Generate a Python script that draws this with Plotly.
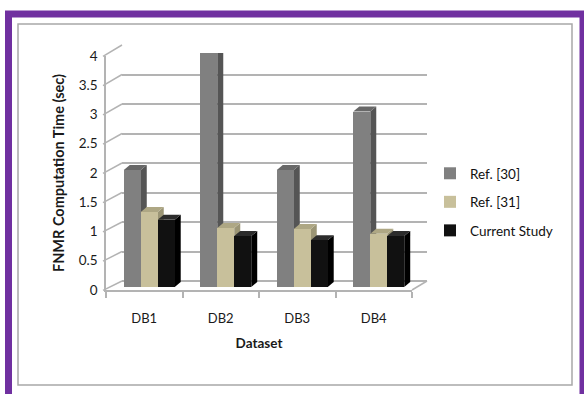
import plotly.graph_objects as go

# ---- data -------------------------------------------------------------
datasets = ["DB1", "DB2", "DB3", "DB4"]
ref30 = [2.0, 4.0, 2.0, 3.0]
ref31 = [1.28, 1.01, 0.99, 0.91]
current_study = [1.15, 0.87, 0.80, 0.87]
series_names = ["Ref. [30]", "Ref. [31]", "Current Study"]
y_ticks = [0, 0.5, 1, 1.5, 2, 2.5, 3, 3.5, 4]

# ---- styling ----------------------------------------------------------
W, H = 584, 394
FONT = "Lato"
front_col = ["#808080", "#c8c09b", "#111111"]
side_col = ["#555555", "#9b9575", "#000000"]
cap_col = ["#686868", "#aea784", "#2c2c2c"]
GRID = "#b3b3b3"
Y_MAX = 4


def px(x):
    return x / W


def py(y):
    return 1 - y / H


# pixel frames of the three depth planes (front edge, bar plane, back wall)
FRONT = dict(x0=106, x1=412, y0=290, y1=56)
BARS = dict(x0=111, x1=417, y0=287, y1=53)
BACK = dict(x0=122, x1=427, y0=281, y1=45)

bar_w = 0.222
offsets = [-0.333, -0.111, 0.111]
x_unit_px = (BARS["x1"] - BARS["x0"]) / len(datasets)
y_unit_px = (BARS["y0"] - BARS["y1"]) / Y_MAX
depth_x = 6 / x_unit_px
depth_y = 5 / y_unit_px

fig = go.Figure()

# back wall subplot (gridlines only)
fig.add_trace(go.Scatter(x=[], y=[], xaxis="x", yaxis="y", showlegend=False, hoverinfo="skip"))

# bars
all_series = [ref30, ref31, current_study]
for k, (name, vals) in enumerate(zip(series_names, all_series)):
    fig.add_trace(go.Bar(
        x=datasets, y=vals, name=name, xaxis="x2", yaxis="y2",
        width=bar_w, offset=offsets[k],
        marker=dict(color=front_col[k], line=dict(width=0)),
        legendgroup=name,
    ))

# front axes (labels)
fig.add_trace(go.Scatter(x=datasets, y=[None] * len(datasets), xaxis="x3", yaxis="y3",
                         showlegend=False, hoverinfo="skip"))

shapes = []

# side and top faces of every bar
for i in range(len(datasets)):
    for k, vals in enumerate(all_series):
        v = vals[i]
        left = i + offsets[k]
        right = left + bar_w
        shapes.append(dict(
            type="path", xref="x2", yref="y2", layer="between",
            path=(f"M{right},{v} L{right + depth_x},{v + depth_y} "
                  f"L{right + depth_x},{depth_y} L{right},0 Z"),
            fillcolor=side_col[k], line=dict(width=0),
        ))
        shapes.append(dict(
            type="path", xref="x2", yref="y2", layer="between",
            path=(f"M{left},{v} L{right},{v} L{right + depth_x},{v + depth_y} "
                  f"L{left + depth_x},{v + depth_y} Z"),
            fillcolor=cap_col[k], line=dict(width=0),
        ))


def plane_y(plane, v):
    return plane["y0"] + (plane["y1"] - plane["y0"]) * v / Y_MAX


# left wall: lines joining front ticks to back gridlines
for v in y_ticks:
    shapes.append(dict(
        type="line", xref="paper", yref="paper",
        x0=px(FRONT["x0"] - 3), y0=py(plane_y(FRONT, v) + 2.5 * 3 / 17),
        x1=px(BACK["x0"]), y1=py(plane_y(BACK, v)),
        line=dict(color=GRID, width=1.5),
    ))

# floor right edge
shapes.append(dict(
    type="line", xref="paper", yref="paper",
    x0=px(FRONT["x1"]), y0=py(FRONT["y0"]), x1=px(BACK["x1"]), y1=py(BACK["y0"]),
    line=dict(color=GRID, width=1.5),
))

# frames
shapes.append(dict(type="rect", xref="paper", yref="paper",
                   x0=px(18), y0=py(385), x1=px(572), y1=py(24),
                   line=dict(color="#a8a8a8", width=1.5), fillcolor="rgba(0,0,0,0)"))
shapes.append(dict(type="rect", xref="paper", yref="paper",
                   x0=px(8.5), y0=py(404), x1=px(583), y1=py(14),
                   line=dict(color="#7030a0", width=7), fillcolor="rgba(0,0,0,0)"))

axis_hidden = dict(showgrid=False, zeroline=False, showline=False, showticklabels=False,
                   ticks="", automargin=False)

fig.update_layout(
    width=W, height=H,
    margin=dict(l=0, r=0, t=0, b=0, autoexpand=False),
    paper_bgcolor="white",
    plot_bgcolor="rgba(0,0,0,0)",
    font=dict(family=FONT, size=13, color="#1a1a1a"),
    showlegend=True,
    legend=dict(x=px(430), y=py(158), xanchor="left", yanchor="top",
                font=dict(family=FONT, size=13.5, color="#111111"),
                tracegroupgap=8, itemwidth=30, bgcolor="rgba(0,0,0,0)"),
    bargap=0,
    # back wall
    xaxis=dict(domain=[px(BACK["x0"]), px(BACK["x1"])], range=[0, 1], **axis_hidden),
    yaxis=dict(domain=[py(BACK["y0"]), py(BACK["y1"])], range=[0, Y_MAX],
               tickvals=y_ticks, showgrid=True, gridcolor=GRID, gridwidth=1.5,
               zeroline=True, zerolinecolor=GRID, zerolinewidth=1.5,
               showticklabels=False, ticks="", showline=False, automargin=False),
    # bar plane
    xaxis2=dict(domain=[px(BARS["x0"]), px(BARS["x1"])], type="category",
                categoryarray=datasets, range=[-0.5, len(datasets) - 0.5],
                anchor="y2", **axis_hidden),
    yaxis2=dict(domain=[py(BARS["y0"]), py(BARS["y1"])], range=[0, Y_MAX],
                anchor="x2", **axis_hidden),
    # front edge with labels
    xaxis3=dict(domain=[px(FRONT["x0"]), px(FRONT["x1"])], type="category",
                categoryarray=datasets, range=[-0.5, len(datasets) - 0.5],
                anchor="y3", tickson="boundaries", ticks="outside", ticklen=6,
                tickcolor=GRID, tickwidth=1.5, showline=True, linecolor=GRID, linewidth=1.5,
                showgrid=False, zeroline=False, ticklabelstandoff=16, automargin=False,
                tickfont=dict(size=13),
                title=dict(text="<b>Dataset</b>", font=dict(size=13.5), standoff=13)),
    yaxis3=dict(domain=[py(FRONT["y0"]), py(FRONT["y1"])], range=[0, Y_MAX],
                anchor="x3", tickvals=y_ticks, ticktext=[f"{t:g}" for t in y_ticks],
                ticks="", showline=True, linecolor=GRID, linewidth=1.5,
                showgrid=False, zeroline=False, ticklabelstandoff=4, automargin=False,
                tickfont=dict(size=13.5),
                title=dict(text="<b>FNMR Computation Time (sec)</b>", font=dict(size=14.5),
                           standoff=11)),
    shapes=shapes,
)

fig.write_html("out.html")
